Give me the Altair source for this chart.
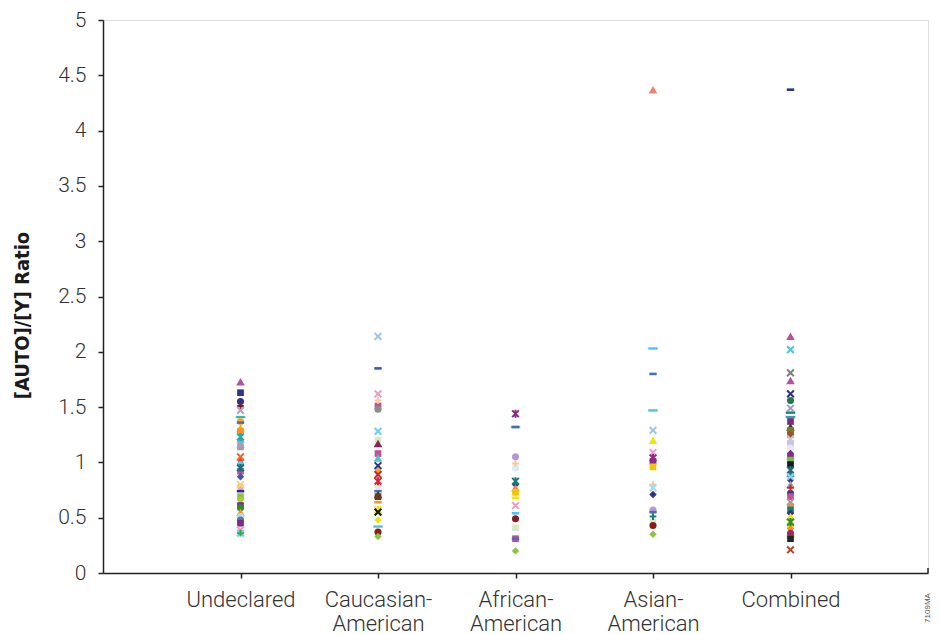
import json
import altair as alt
import pandas as pd

# ---------------- data ----------------
categories = [1, 2, 3, 4, 5]
category_labels = [["Undeclared"], ["Caucasian-", "American"], ["African-", "American"],
                   ["Asian-", "American"], ["Combined"]]
y_ticks = [0, 0.5, 1, 1.5, 2, 2.5, 3, 3.5, 4, 4.5, 5]

undeclared_vals = [1.73, 1.63, 1.55, 1.51, 1.47, 1.41, 1.37, 1.36, 1.31, 1.28, 1.23, 1.20, 1.16, 1.14,
                   1.05, 1.02, 0.98, 0.95, 0.92, 0.87, 0.80, 0.78, 0.74, 0.69, 0.66, 0.61, 0.59, 0.55,
                   0.51, 0.48, 0.45, 0.39, 0.36, 0.36]
undeclared_markers = ["triangle", "square", "circle", "plus", "x", "longdash", "circle", "dash", "triangle",
                      "square", "star", "diamond", "x", "square", "x", "diamond", "circle", "star", "square",
                      "diamond", "x", "circle", "dash", "square", "diamond", "square", "circle", "triangle",
                      "circle", "circle", "square", "x", "x", "plus"]
undeclared_colors = ["#b84fa0", "#2e3383", "#2e3383", "#8b1a1a", "#b3a2d0", "#3bb5b8", "#f7a823", "#4a6eb5",
                     "#f7a823", "#f7941d", "#2aa5a8", "#4cc5d6", "#a99bc9", "#9e9e9e", "#f26522", "#e0482a",
                     "#5bc8e0", "#1b6f7a", "#c0509a", "#3a5ba5", "#f5e24a", "#f6a5c0", "#2e3383", "#8cc63f",
                     "#a6ce39", "#7b2d86", "#2e8b3a", "#f7941d", "#aee0ee", "#6b6fa8", "#7b2d86", "#f49ac1",
                     "#6dcff6", "#39a845"]

caucasian_vals = [2.14, 1.85, 1.62, 1.56, 1.51, 1.48, 1.28, 1.20, 1.17, 1.08, 1.04, 0.97, 0.92, 0.89,
                  0.83, 0.79, 0.74, 0.71, 0.69, 0.64, 0.57, 0.55, 0.48, 0.42, 0.37, 0.33]
caucasian_markers = ["x", "dash", "x", "plus", "square", "circle", "x", "square", "triangle", "square",
                     "triangle", "x", "diamond", "x", "star", "circle", "dash", "triangle", "square", "dash",
                     "star", "x", "diamond", "longdash", "circle", "diamond"]
caucasian_colors = ["#9cc7ea", "#3a5ba5", "#f49ac1", "#fcc89b", "#c0509a", "#8c8c8c", "#6dcff6", "#d7e9c5",
                    "#8b2252", "#c0509a", "#4cc5d6", "#2e3383", "#f7a823", "#c1272d", "#d7262f", "#e6e6e6",
                    "#4a6eb5", "#3d3d1f", "#6b3a1e", "#f7941d", "#f5e600", "#111111", "#f2e600", "#4cc5d6",
                    "#8b1a1a", "#8cc63f"]

african_vals = [1.44, 1.32, 1.32, 1.05, 0.99, 0.95, 0.83, 0.80, 0.77, 0.73, 0.68, 0.61, 0.54, 0.49,
                0.41, 0.31, 0.31, 0.20]
african_markers = ["star", "longdash", "dash", "circle", "plus", "circle", "star", "diamond", "triangle",
                   "square", "dash", "x", "dash", "circle", "square", "square", "dash", "diamond"]
african_colors = ["#8b2a8a", "#4cc5d6", "#4a6eb5", "#b39ad0", "#fcc89b", "#d8eef7", "#1b7a7a", "#2e3383",
                  "#f08070", "#f7c300", "#f5e600", "#f49ac1", "#4cc5f6", "#8b1a1a", "#d7e9c5", "#b84fa0",
                  "#4a6eb5", "#8cc63f"]

asian_vals = [4.37, 2.03, 1.80, 1.47, 1.29, 1.20, 1.09, 1.04, 1.01, 0.96, 0.80, 0.77, 0.71, 0.57, 0.55,
              0.51, 0.46, 0.43, 0.35]
asian_markers = ["triangle", "longdash", "dash", "longdash", "x", "triangle", "x", "star", "square", "square",
                 "plus", "x", "diamond", "circle", "dash", "plus", "square", "circle", "diamond"]
asian_colors = ["#f08070", "#4cc5f6", "#4a6eb5", "#4cc5c6", "#9cc7ea", "#f5e600", "#f49ac1", "#8b2a8a",
                "#8b2a8a", "#f7c300", "#fcc89b", "#9ddcf0", "#2e3383", "#b39ad0", "#4a6eb5", "#1b7a7a",
                "#d7e9c5", "#8b1a1a", "#8cc63f"]

combined_vals = [4.37, 2.14, 2.02, 1.81, 1.74, 1.62, 1.56, 1.49, 1.45, 1.41, 1.37, 1.32, 1.29, 1.25, 1.21,
                 1.17, 1.13, 1.08, 1.05, 1.02, 0.98, 0.93, 0.90, 0.87, 0.84, 0.80, 0.77, 0.72, 0.69, 0.64,
                 0.61, 0.57, 0.54, 0.51, 0.46, 0.43, 0.40, 0.36, 0.33, 0.31, 0.21]
combined_markers = ["dash", "triangle", "x", "x", "triangle", "x", "circle", "x", "longdash", "longdash",
                    "square", "triangle", "square", "square", "x", "square", "circle", "diamond", "square",
                    "square", "square", "star", "triangle", "x", "diamond", "triangle", "plus", "circle",
                    "square", "x", "circle", "square", "diamond", "triangle", "star", "square", "diamond",
                    "circle", "dash", "square", "x"]
combined_colors = ["#2e3383", "#b84fa0", "#4cc5d6", "#7f7f7f", "#b84fa0", "#2e3383", "#1e7b45", "#a99bc9",
                   "#1b7a7a", "#2aa5a8", "#7b2d86", "#3d3d1f", "#7a7a30", "#a0522d", "#c9c5e0", "#c9c5e0",
                   "#e8e8f0", "#7b2d86", "#8b2a8a", "#6cbf4a", "#1a1a1a", "#1b6f7a", "#2aa5a8", "#9cc7ea",
                   "#2e3383", "#a8a8a8", "#c1272d", "#3b3b9a", "#c0509a", "#9e9e9e", "#f7941d", "#138086",
                   "#2e3383", "#f5e600", "#2e8b3a", "#f5e600", "#f7941d", "#9e2a6a", "#f7941d", "#1e2b1e",
                   "#b5442a"]

figure_code = "7109MA"

# ---------------- build table ----------------
series = [
    (1, undeclared_vals, undeclared_markers, undeclared_colors),
    (2, caucasian_vals, caucasian_markers, caucasian_colors),
    (3, african_vals, african_markers, african_colors),
    (4, asian_vals, asian_markers, asian_colors),
    (5, combined_vals, combined_markers, combined_colors),
]

shape_paths = {
    "triangle": "triangle-up",
    "square": "square",
    "circle": "circle",
    "diamond": "diamond",
    "dash": "M-1,-0.35H1V0.35H-1Z",
    "longdash": "M-1,-0.25H1V0.25H-1Z",
    "x": "M-1,-1L1,1M-1,1L1,-1",
    "plus": "M-1,0H1M0,-1V1",
    "star": "M-1,-1L1,1M-1,1L1,-1M0,-1.2V1.2",
}
shape_sizes = {"triangle": 75, "square": 45, "circle": 50, "diamond": 55, "dash": 55, "longdash": 90,
               "x": 45, "plus": 45, "star": 45}
stroked = {"x", "plus", "star"}

rows = []
for cat, vals, marks, cols in series:
    for v, m, c in zip(vals, marks, cols):
        rows.append({"cat": cat, "value": v, "shape": shape_paths[m], "size": shape_sizes[m],
                     "color": c, "stroked": m in stroked})
df = pd.DataFrame(rows)

label_expr = ""
for c, lab in zip(categories, category_labels):
    label_expr += f"datum.value == {c} ? {json.dumps(lab)} : "
label_expr += "''"

FONT = "Roboto"
TITLE_FONT = "'DejaVu Sans Condensed', 'Liberation Sans', sans-serif"
x_enc = alt.X("cat:Q", scale=alt.Scale(domain=[0, 6], nice=False, zero=False),
              axis=alt.Axis(values=categories, labelExpr=label_expr, title=None, grid=False,
                            labelFont=FONT, labelFontWeight=300, labelFontSize=22, labelColor="#333333",
                            labelPadding=11, labelLineHeight=24, tickSize=5, tickWidth=1.5,
                            tickColor="#222222", domainColor="#222222", domainWidth=1.5,
                            labelAlign="center", labelBaseline="top"))
y_enc = alt.Y("value:Q", scale=alt.Scale(domain=[0, 5], nice=False),
              axis=alt.Axis(values=y_ticks, labelExpr="datum.value + ''", grid=False,
                            title="[AUTO]/[Y] Ratio", titleFont=TITLE_FONT,
                            titleFontWeight="bold", titleFontSize=20, titleColor="#1a1a1a",
                            titleAngle=270, titleX=-81, titleY=295, titleAlign="center",
                            titleBaseline="middle",
                            labelFont=FONT, labelFontWeight=300, labelFontSize=21, labelColor="#333333",
                            labelPadding=12, tickSize=5, tickWidth=1.5, tickColor="#222222",
                            domainColor="#222222", domainWidth=1.5))

base = alt.Chart(df)
filled_layer = base.transform_filter("!datum.stroked").mark_point(filled=True, opacity=1).encode(
    x=x_enc, y=y_enc,
    shape=alt.Shape("shape:N", scale=None),
    size=alt.Size("size:Q", scale=None),
    fill=alt.Fill("color:N", scale=None),
)
stroked_layer = base.transform_filter("datum.stroked").mark_point(filled=False, opacity=1, strokeWidth=2).encode(
    x="cat:Q", y="value:Q",
    shape=alt.Shape("shape:N", scale=None),
    size=alt.Size("size:Q", scale=None),
    stroke=alt.Stroke("color:N", scale=None),
)
end_tick = alt.Chart(pd.DataFrame({"x": [6]})).mark_rule(color="#222222", strokeWidth=1.5).encode(
    x="x:Q", y=alt.value(553), y2=alt.value(548))
code_text = alt.Chart(pd.DataFrame({"t": [figure_code]})).mark_text(
    angle=270, fontSize=8, font="Liberation Sans", color="#555555", align="center", baseline="middle"
).encode(x=alt.value(825), y=alt.value(588), text="t:N")

chart = alt.layer(filled_layer, stroked_layer, end_tick, code_text).properties(
    width=825, height=553,
    autosize=alt.AutoSizeParams(type="none"),
    padding={"left": 95, "top": 12, "right": 5, "bottom": 61},
).configure_view(stroke=None).configure(background="white")

chart.save("out.html", embed_options={"renderer": "svg", "actions": False})
